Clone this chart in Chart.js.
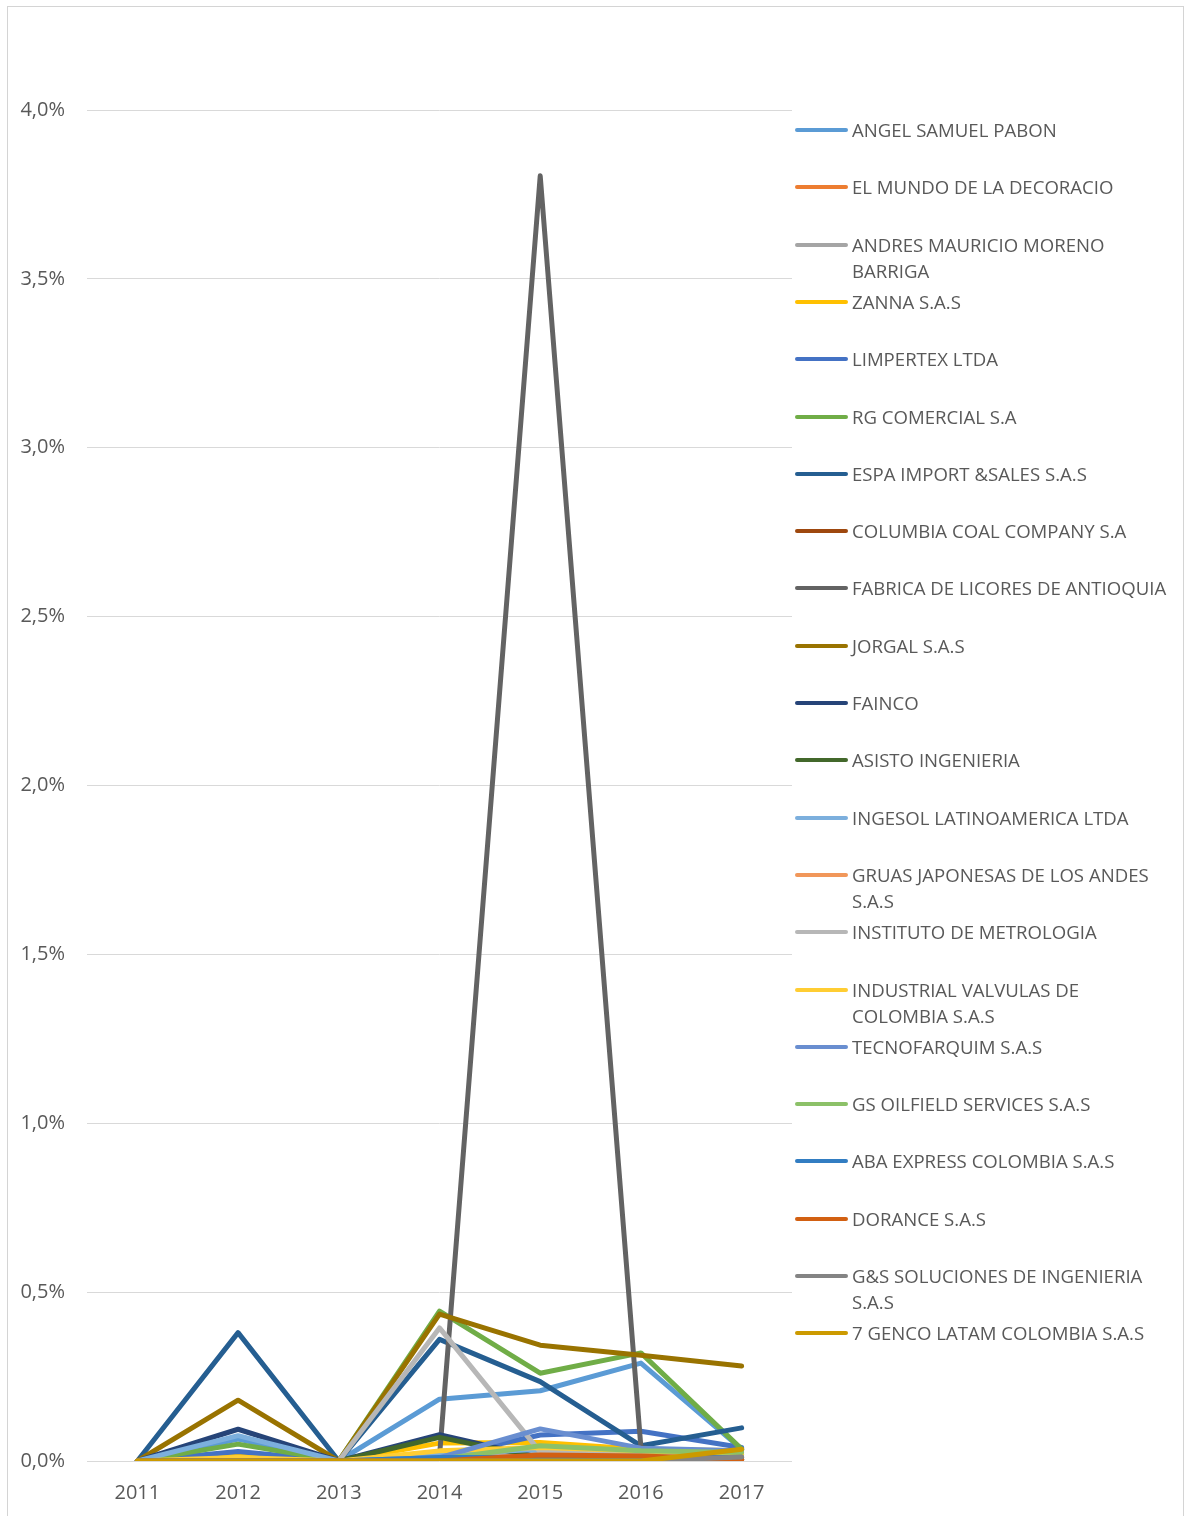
<!DOCTYPE html>
<html>
<head>
<meta charset="utf-8">
<script src="https://cdn.jsdelivr.net/npm/chart.js@4"></script>
<style>
  html, body { margin: 0; overflow: hidden; background: #fff; font-family: "Open Sans", sans-serif; }
  #marco { position: absolute; left: 7px; top: 6px; width: 1177px; height: 1515px; border: 1px solid #d4d4d4; border-bottom: none; box-sizing: border-box; }
  #lienzo { position: absolute; left: 0; top: 0; width: 1185px; height: 1516px; }
  #leyenda { position: absolute; left: 0; top: 0; }
  .item { position: absolute; left: 795px; }
  .muestra { position: absolute; left: 0; top: 11px; width: 53px; height: 4px; border-radius: 2px; }
  .texto { position: absolute; left: 57px; top: 0; width: 320px; font-size: 18.6px; line-height: 26px; color: #595959; }
</style>
</head>
<body>
<div id="marco"></div>
<canvas id="lienzo" width="1185" height="1516"></canvas>
<div id="leyenda"></div>
<script>
const anios = ['2011', '2012', '2013', '2014', '2015', '2016', '2017'];

const empresas = [
  'ANGEL SAMUEL PABON', 'EL MUNDO DE LA DECORACIO', 'ANDRES MAURICIO MORENO BARRIGA',
  'ZANNA S.A.S', 'LIMPERTEX LTDA', 'RG COMERCIAL S.A', 'ESPA IMPORT &SALES S.A.S',
  'COLUMBIA COAL COMPANY S.A', 'FABRICA DE LICORES DE ANTIOQUIA', 'JORGAL S.A.S',
  'FAINCO', 'ASISTO INGENIERIA', 'INGESOL LATINOAMERICA LTDA',
  'GRUAS JAPONESAS DE LOS ANDES S.A.S', 'INSTITUTO DE METROLOGIA',
  'INDUSTRIAL VALVULAS DE COLOMBIA S.A.S', 'TECNOFARQUIM S.A.S',
  'GS OILFIELD SERVICES S.A.S', 'ABA EXPRESS COLOMBIA S.A.S', 'DORANCE S.A.S',
  'G&S SOLUCIONES DE INGENIERIA S.A.S', '7 GENCO LATAM COLOMBIA S.A.S'
];

const colores = [
  '#5B9BD5', '#ED7D31', '#A5A5A5', '#FFC000', '#4472C4', '#70AD47', '#255E91',
  '#9E480E', '#636363', '#997300', '#264478', '#43682B', '#7CAFDD', '#F1975A',
  '#B7B7B7', '#FFCD33', '#698ED0', '#8CC168', '#327DC2', '#D26012', '#848484', '#CC9A00'
];

// valores en %
const angelSamuel   = [0, 0.065, 0, 0.183, 0.208, 0.29, 0.035];
const elMundo       = [0, 0, 0, 0, 0.012, 0.01, 0.005];
const andresMoreno  = [0, 0, 0, 0.015, 0.02, 0.015, 0.01];
const zanna         = [0, 0.015, 0, 0.053, 0.055, 0.035, 0.03];
const limpertex     = [0, 0.028, 0, 0.012, 0.077, 0.088, 0.04];
const rgComercial   = [0, 0.05, 0, 0.444, 0.26, 0.32, 0.035];
const espaImport    = [0, 0.38, 0, 0.36, 0.235, 0.045, 0.098];
const columbiaCoal  = [0, 0, 0, 0, 0.005, 0.005, 0];
const fabricaLic    = [0, 0, 0, 0.015, 3.805, 0.04, 0];
const jorgal        = [0, 0.18, 0, 0.435, 0.343, 0.313, 0.281];
const fainco        = [0, 0.094, 0, 0.078, 0.01, 0.005, 0.005];
const asisto        = [0, 0, 0, 0.07, 0.01, 0.005, 0.005];
const ingesol       = [0, 0.075, 0, 0.02, 0.035, 0.02, 0.02];
const gruasJap      = [0, 0, 0, 0.005, 0.015, 0.01, 0.005];
const institutoMet  = [0, 0, 0, 0.394, 0.027, 0.02, 0.01];
const industrialVal = [0, 0.01, 0, 0.03, 0.04, 0.03, 0.02];
const tecnofarquim  = [0, 0, 0, 0.01, 0.095, 0.038, 0.03];
const gsOilfield    = [0, 0, 0, 0.005, 0.045, 0.03, 0.025];
const abaExpress    = [0, 0, 0, 0.01, 0.01, 0.01, 0.01];
const dorance       = [0, 0, 0, 0, 0.018, 0.015, 0.005];
const gsSoluciones  = [0, 0, 0, 0, 0, 0, 0.012];
const genco         = [0, 0, 0, 0, 0, 0, 0.035];

const series = [
  angelSamuel, elMundo, andresMoreno, zanna, limpertex, rgComercial, espaImport,
  columbiaCoal, fabricaLic, jorgal, fainco, asisto, ingesol, gruasJap, institutoMet,
  industrialVal, tecnofarquim, gsOilfield, abaExpress, dorance, gsSoluciones, genco
];

const datasets = empresas.map((nombre, i) => ({
  label: nombre,
  data: series[i],
  borderColor: colores[i],
  backgroundColor: colores[i],
  borderWidth: 5,
  borderCapStyle: 'round',
  borderJoinStyle: 'round',
  pointRadius: 0,
  tension: 0,
  fill: false,
  order: empresas.length - i  // las últimas series quedan encima, como en Excel
}));

const grafico = new Chart(document.getElementById('lienzo'), {
  type: 'line',
  data: { labels: anios, datasets: datasets },
  options: {
    responsive: false,
    animation: false,
    layout: { padding: { left: 7, top: 110, right: 393, bottom: 0 } },
    plugins: { legend: { display: false }, tooltip: { enabled: false } },
    scales: {
      x: {
        offset: true,
        grid: { display: false },
        border: { display: false },
        ticks: { color: '#595959', font: { family: 'Open Sans', size: 20 }, padding: 12 },
        afterFit: (s) => { s.height = 55; }
      },
      y: {
        min: 0,
        max: 4,
        grid: { color: '#d9d9d9', lineWidth: 1, drawTicks: false },
        border: { display: false },
        ticks: {
          stepSize: 0.5,
          padding: 22,
          color: '#595959',
          font: { family: 'Open Sans', size: 20 },
          callback: (v) => v.toFixed(1).replace('.', ',') + '%'
        },
        afterFit: (s) => { s.width = 80; }
      }
    }
  }
});

// leyenda a la derecha, como en el original
const leyenda = document.getElementById('leyenda');
const leyendaTop = 117;
const leyendaPaso = 57.3;
grafico.data.datasets.forEach((ds, i) => {
  const item = document.createElement('div');
  item.className = 'item';
  item.style.top = (leyendaTop + i * leyendaPaso) + 'px';
  const muestra = document.createElement('div');
  muestra.className = 'muestra';
  muestra.style.background = ds.borderColor;
  const texto = document.createElement('div');
  texto.className = 'texto';
  texto.textContent = ds.label;
  item.appendChild(muestra);
  item.appendChild(texto);
  leyenda.appendChild(item);
});
</script>
</body>
</html>
